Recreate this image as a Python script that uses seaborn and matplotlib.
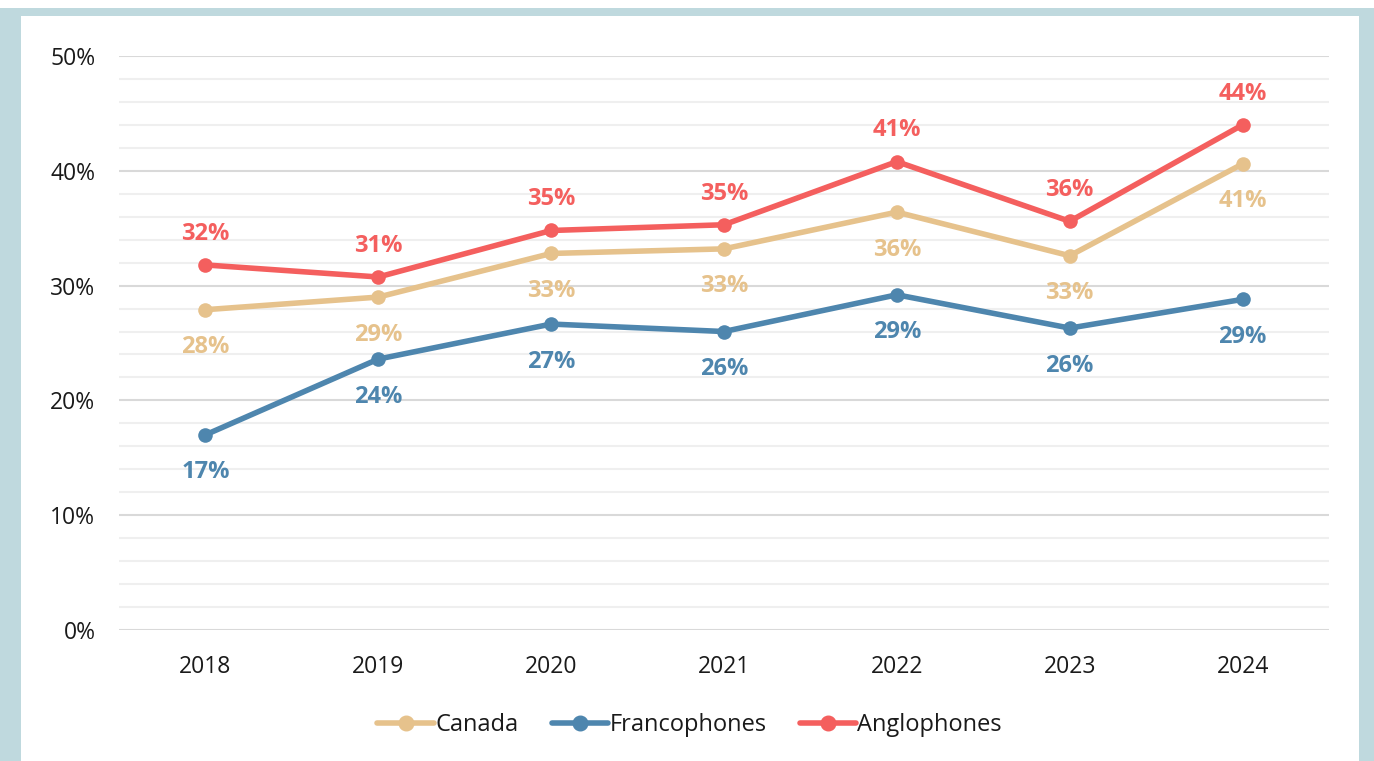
import matplotlib
matplotlib.use("Agg")
import matplotlib.pyplot as plt
from matplotlib.lines import Line2D
from matplotlib.patches import Rectangle
from matplotlib.ticker import MultipleLocator, FuncFormatter
import pandas as pd
import seaborn as sns

years = ["2018", "2019", "2020", "2021", "2022", "2023", "2024"]
canada = [27.9, 29.0, 32.8, 33.2, 36.4, 32.6, 40.6]
francophones = [17.0, 23.6, 26.65, 26.0, 29.2, 26.3, 28.8]
anglophones = [31.8, 30.75, 34.8, 35.3, 40.8, 35.6, 44.0]
series_names = ["Canada", "Francophones", "Anglophones"]
colors = {"Canada": "#E6C28C", "Francophones": "#4E86AE", "Anglophones": "#F45F5E"}
# label placement relative to each point: +1 above, -1 below
label_side = {"Canada": -1, "Francophones": -1, "Anglophones": 1}

sns.set_theme(style="white")
plt.rcParams["font.family"] = ["Open Sans", "DejaVu Sans"]

rows = []
for name, vals in zip(series_names, [canada, francophones, anglophones]):
    for i, (yr, v) in enumerate(zip(years, vals)):
        rows.append({"idx": i, "year": yr, "series": name, "value": v})
df = pd.DataFrame(rows)

W, H = 1374, 761
fig = plt.figure(figsize=(W / 100, H / 100), dpi=100)
fig.patch.set_facecolor("#BFD9DE")
# white top strip and white inner panel
fig.add_artist(Rectangle((0, 1 - 8 / H), 1, 8 / H, transform=fig.transFigure,
                         facecolor="white", edgecolor="none", zorder=0))
fig.add_artist(Rectangle((21 / W, 0), (1359 - 21) / W, (H - 16) / H, transform=fig.transFigure,
                         facecolor="white", edgecolor="none", zorder=0))

ax = fig.add_axes([119 / W, 1 - 630 / H, (1329 - 119) / W, (630 - 56) / H])
ax.set_facecolor("none")

sns.lineplot(data=df, x="idx", y="value", hue="series", hue_order=series_names,
             palette=colors, marker="o", markersize=10.5, markeredgewidth=0,
             linewidth=4, ax=ax, legend=False, sort=False)
for ln in ax.lines:
    ln.set_solid_capstyle("round")
    ln.set_clip_on(False)

ax.set_xlim(-0.5, len(years) - 0.5)
ax.set_ylim(0, 50)
ax.set_xticks(range(len(years)))
ax.set_xticklabels(years)
ax.yaxis.set_major_locator(MultipleLocator(10))
ax.yaxis.set_minor_locator(MultipleLocator(2))
ax.yaxis.set_major_formatter(FuncFormatter(lambda v, p: f"{v:.0f}%"))
ax.grid(which="minor", axis="y", color="#EFEFEF", linewidth=1.5)
ax.grid(which="major", axis="y", color="#D9D9D9", linewidth=1.5)
ax.grid(which="both", axis="x", visible=False)
ax.set_axisbelow(True)
for s in ax.spines.values():
    s.set_visible(False)
ax.tick_params(axis="both", which="both", length=0, labelsize=16.5, colors="#1A1A1A")
ax.tick_params(axis="y", pad=17)
ax.tick_params(axis="x", pad=18)
ax.set_xlabel("")
ax.set_ylabel("")

for name, vals in zip(series_names, [canada, francophones, anglophones]):
    side = label_side[name]
    off = 22.5 if side > 0 else 27
    for i, v in enumerate(vals):
        ax.annotate(f"{v:.0f}%", xy=(i, v), xytext=(0, off * side),
                    textcoords="offset points", ha="center", va="center",
                    fontsize=17, fontweight="bold", color=colors[name])

handles = [Line2D([], [], color=colors[n], linewidth=4, marker="o", markersize=10.5,
                  solid_capstyle="round") for n in series_names]
fig.legend(handles, series_names, loc="center", bbox_to_anchor=(0.502, 1 - 725 / H),
           ncol=3, frameon=False, fontsize=17, handlelength=2.4, handletextpad=0.05,
           columnspacing=1.4, labelcolor="#1A1A1A")

fig.savefig("out.png", dpi=100, facecolor=fig.get_facecolor())
